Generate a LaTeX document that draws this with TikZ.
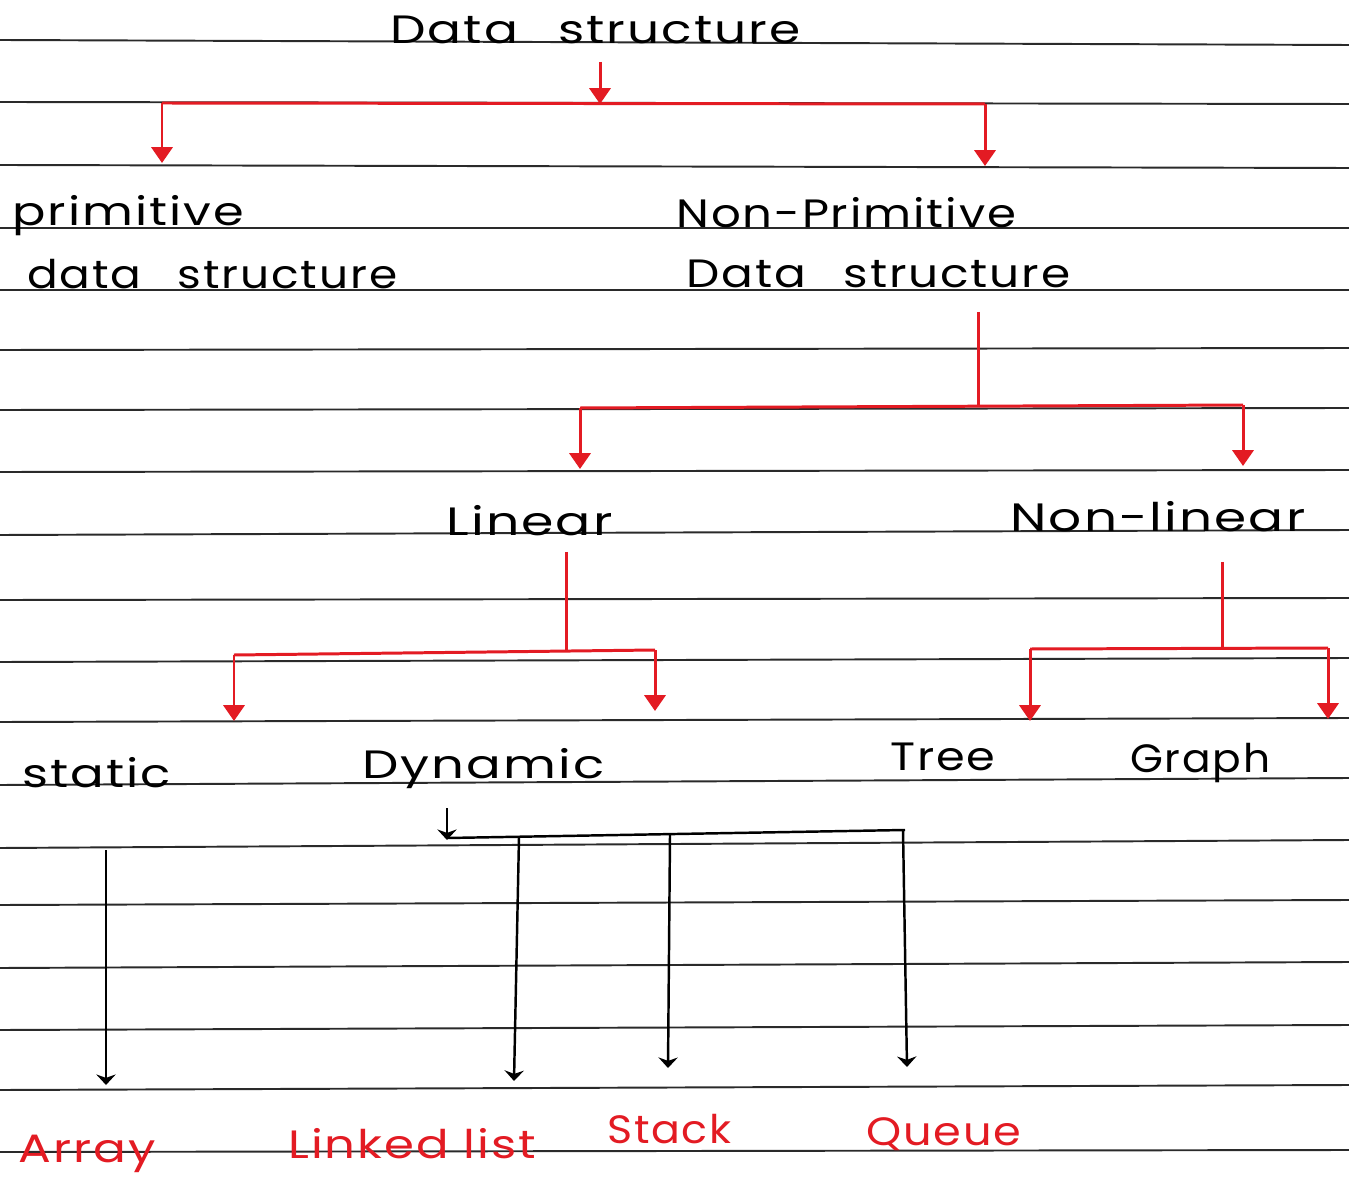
\documentclass[tikz,border=0pt]{standalone}
\usepackage{fontspec}
\setmainfont{Poppins}[LetterSpace=4]
\usetikzlibrary{arrows.meta}
\definecolor{penred}{HTML}{E31B23}
\definecolor{ruleink}{HTML}{2A2A2A}
\begin{document}
\begin{tikzpicture}[x=0.02cm,y=-0.02cm,
  ruleline/.style={line width=1.1pt, draw=ruleink},
  redc/.style={line width=1.7pt, draw=penred},
  redarr/.style={redc, -{Triangle[length=9pt,width=12pt]}},
  blkc/.style={line width=1.4pt, draw=black},
  blkarr/.style={blkc, -{Stealth[length=6pt,width=11pt]}},
  lbl/.style={anchor=base west, inner sep=0pt, font=\fontsize{22.5}{26}\selectfont, text=black},
  redlbl/.style={lbl, text=penred}]
\fill[white] (0,0) rectangle (1349,1185);
\useasboundingbox (0,0) rectangle (1349,1185);
% ruled notebook lines
\foreach \a/\b in {40/45,102/104,165/168,228/228,290/290,350/348,410/408,472/470,535/530,600/598,662/658,722/718,785/778,848/840,905/900,968/962,1030/1025,1090/1085,1152/1150}
  \draw[ruleline] (0,\a) -- (1349,\b);
% labels
\node[lbl, xscale=1.27] (ds) at (390,44) {Data\hspace{0.8em}structure};
\node[lbl, xscale=1.25] (prim) at (12,226) {primitive};
\node[lbl, xscale=1.15] (pds) at (27,289) {data\hspace{0.8em}structure};
\node[lbl, xscale=1.18] (np) at (676,228) {Non-Primitive};
\node[lbl, xscale=1.19] (nds) at (686,288) {Data\hspace{0.8em}structure};
\node[lbl, xscale=1.32] (lin) at (446,536) {Linear};
\node[lbl, xscale=1.31] (nlin) at (1010,532) {Non-linear};
\node[lbl, xscale=1.26] (stat) at (22,787) {static};
\node[lbl, xscale=1.30] (dyn) at (362,778) {Dynamic};
\node[lbl, xscale=1.17] (tree) at (890,770) {Tree};
\node[lbl, xscale=1.07] (graph) at (1130,772) {Graph};
\node[redlbl, xscale=1.23] (arr) at (18,1162) {Array};
\node[redlbl, xscale=1.22] (ll) at (288,1158) {Linked list};
\node[redlbl, xscale=1.08] (stk) at (607,1143) {Stack};
\node[redlbl, xscale=1.13] (que) at (866,1145) {Queue};
% level 1
\coordinate (t1) at (600,62);
\coordinate (j1) at (600,104);
\coordinate (l1) at (162,103);
\coordinate (r1) at (985,104);
\coordinate (l1e) at (162,163);
\coordinate (r1e) at (985,166);
\draw[redc] (l1) -- (r1);
\draw[redarr] (t1) -- (j1);
\draw[redarr] (l1) -- (l1e);
\draw[redarr] (r1) -- (r1e);
% level 2
\coordinate (t2) at (978,312);
\coordinate (j2) at (978,406);
\coordinate (l2) at (580,408);
\coordinate (r2) at (1243,405);
\coordinate (l2e) at (580,469);
\coordinate (r2e) at (1243,466);
\draw[redc] (t2) -- (j2);
\draw[redc] (l2) -- (r2);
\draw[redarr] (l2) -- (l2e);
\draw[redarr] (r2) -- (r2e);
% level 3 (linear)
\coordinate (t3) at (566,552);
\coordinate (j3) at (566,652);
\coordinate (l3) at (234,655);
\coordinate (r3) at (655,650);
\coordinate (l3e) at (234,721);
\coordinate (r3e) at (655,711);
\draw[redc] (t3) -- (j3);
\draw[redc] (l3) -- (r3);
\draw[redarr] (l3) -- (l3e);
\draw[redarr] (r3) -- (r3e);
% level 3 (non-linear)
\coordinate (t4) at (1222,562);
\coordinate (j4) at (1222,648);
\coordinate (l4) at (1030,649);
\coordinate (r4) at (1328,648);
\coordinate (l4e) at (1030,721);
\coordinate (r4e) at (1328,719);
\draw[redc] (t4) -- (j4);
\draw[redc] (l4) -- (r4);
\draw[redarr] (l4) -- (l4e);
\draw[redarr] (r4) -- (r4e);
% black: static -> array
\coordinate (s1) at (106,850);
\coordinate (s1e) at (106,1085);
\draw[blkarr] (s1) -- (s1e);
% black: dynamic
\coordinate (t5) at (447,808);
\coordinate (j5) at (447,840);
\coordinate (h5l) at (447,838);
\coordinate (h5r) at (905,830);
\coordinate (b1) at (519,837);
\coordinate (b1e) at (514,1081);
\coordinate (b2) at (670,835);
\coordinate (b2e) at (668,1068);
\coordinate (b3) at (903,830);
\coordinate (b3e) at (907,1067);
\draw[blkc] (h5l) -- (h5r);
\draw[blkarr] (t5) -- (j5);
\draw[blkarr] (b1) -- (b1e);
\draw[blkarr] (b2) -- (b2e);
\draw[blkarr] (b3) -- (b3e);
\end{tikzpicture}
\end{document}
